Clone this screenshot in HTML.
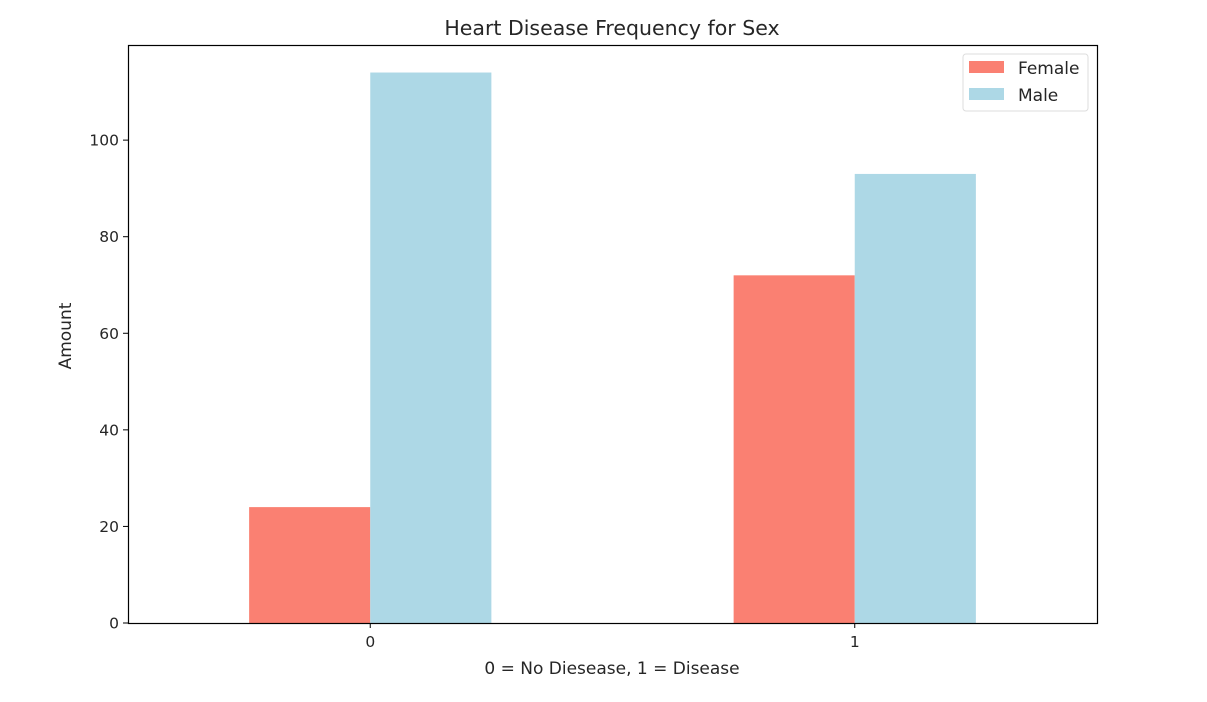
<!DOCTYPE html>
<html><head><meta charset="utf-8"><style>
body{margin:0;background:#fff;}
text{font-family:"DejaVu Sans","Liberation Sans",sans-serif;fill:#262626;}
</style></head><body>
<svg id="chart" width="1207" height="697">
<text x="612" y="35" font-size="20.5" text-anchor="middle">Heart Disease Frequency for Sex</text>
<g id="bars"></g>
<g id="axes"></g>
<rect x="128.5" y="45.5" width="969" height="578" fill="none" stroke="#000" stroke-width="1.2"/>
<text x="612" y="674" font-size="17" text-anchor="middle">0 = No Diesease, 1 = Disease</text>
<text transform="translate(71,336) rotate(-90)" font-size="17" text-anchor="middle">Amount</text>
<g>
<rect x="963" y="54" width="125" height="57" rx="3" fill="#fff" stroke="#ddd"/>
<rect x="969" y="61" width="35" height="12" fill="#fa8072"/>
<text x="1018" y="74" font-size="17">Female</text>
<rect x="969" y="88" width="35" height="12" fill="#add8e6"/>
<text x="1018" y="101" font-size="17">Male</text>
</g>
</svg>
<script>
const categories=["0","1"];
const female=[24,72];
const male=[114,93];
const yTicks=[0,20,40,60,80,100];
const NS="http://www.w3.org/2000/svg";
const L=128,R=1097,T=45,B=623;
const x=v=>L+(v+0.5)*(R-L)/2;
const y=v=>B-v*(B-T)/119.7;
const bw=0.25*(R-L)/2;
const bars=document.getElementById('bars'),axes=document.getElementById('axes');
function mk(tag,attrs,parent){const e=document.createElementNS(NS,tag);for(const k in attrs)e.setAttribute(k,attrs[k]);parent.appendChild(e);return e;}
categories.forEach((c,i)=>{
  const cx=x(i);
  let r=mk('rect',{x:cx-bw,y:y(female[i]),width:bw,height:B-y(female[i]),fill:'#fa8072'},bars);
  
  
  r=mk('rect',{x:cx,y:y(male[i]),width:bw,height:B-y(male[i]),fill:'#add8e6'},bars);
  
  
  const t=mk('line',{x1:cx,x2:cx,y1:B,y2:B+5,stroke:'#000'},axes);
  
  
  const tx=mk('text',{x:cx,y:B+24,'font-size':15.5,'text-anchor':'middle'},axes);
  tx.textContent=c;
  
  
});
yTicks.forEach(v=>{
  const t=mk('line',{x1:L-5,x2:L,y1:y(v),y2:y(v),stroke:'#000'},axes);
  
  
  const tx=mk('text',{x:L-9,y:y(v)+5.5,'font-size':15.5,'text-anchor':'end'},axes);
  tx.textContent=v;
  
  
});
</script>
</body></html>
